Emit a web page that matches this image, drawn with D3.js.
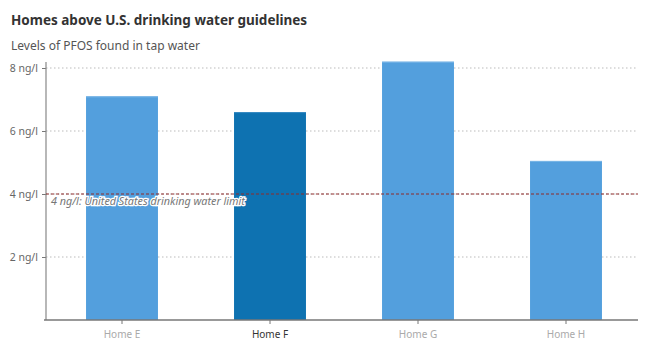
<!DOCTYPE html>
<html><head><meta charset="utf-8">
<script src="https://cdn.jsdelivr.net/npm/d3@7"></script>
<style>body{margin:0;background:#fff}svg{display:block}</style>
</head><body><svg id="c" width="645" height="359"></svg>
<script>
const categories = ["Home E","Home F","Home G","Home H"];
const values = [7.1, 6.6, 8.2, 5.05];
const highlighted = ["Home F"];
const yTicks = [2,4,6,8];
const limitValue = 4;
const limitLabel = "4 ng/l: United States drinking water limit";
const title = "Homes above U.S. drinking water guidelines";
const subtitle = "Levels of PFOS found in tap water";

const svg = d3.select("#c");
const font = "'Noto Sans', sans-serif";
const L = 46, R = 638, T = 62, B = 320;
const x = d3.scaleBand().domain(categories).range([48, 640]).paddingInner(0.514).paddingOuter(0.257);
const y = d3.scaleLinear().domain([0, 8]).range([B, 68]);

svg.append("text").attr("x", 11).attr("y", 25).attr("font-family", font).attr("font-weight", "bold")
  .attr("font-size", 13.5).attr("fill", "#333").text(title);
svg.append("text").attr("x", 11).attr("y", 50).attr("font-family", font)
  .attr("font-size", 12).attr("fill", "#555").text(subtitle);

// grid
svg.append("g").selectAll("line").data(yTicks).join("line")
  .attr("x1", L).attr("x2", R).attr("y1", d => y(d)).attr("y2", d => y(d))
  .attr("stroke", "#bbb").attr("stroke-dasharray", "1.5,2.5");

// y axis
const ya = svg.append("g").attr("transform", `translate(${L},0)`)
  .call(d3.axisLeft(y).tickValues(yTicks).tickSize(4).tickPadding(4).tickFormat(d => d + " ng/l"));
ya.select(".domain").remove();
ya.selectAll(".tick line").attr("stroke", "#777");
ya.selectAll(".tick text").attr("font-family", font).attr("font-size", 10.5).attr("fill", "#666");
svg.append("line").attr("x1", L).attr("x2", L).attr("y1", T).attr("y2", B).attr("stroke", "#888").attr("stroke-width", 1.2);

// bars
svg.append("g").selectAll("rect").data(values).join("rect")
  .attr("x", (d, i) => x(categories[i])).attr("width", x.bandwidth())
  .attr("y", d => y(d)).attr("height", d => B - y(d))
  .attr("fill", (d, i) => highlighted.includes(categories[i]) ? "#0e72b1" : "#539fdd");
svg.append("g").selectAll("line").data(values).join("line")
  .attr("x1", (d, i) => x(categories[i])).attr("x2", (d, i) => x(categories[i]) + x.bandwidth())
  .attr("y1", d => y(d) + 0.5).attr("y2", d => y(d) + 0.5)
  .attr("stroke", (d, i) => highlighted.includes(categories[i]) ? "#3a8cc4" : "#7ab6e6").attr("stroke-width", 1);

// x axis
const xa = svg.append("g").attr("transform", `translate(0,${B})`)
  .call(d3.axisBottom(x).tickSize(4).tickPadding(7));
xa.select(".domain").remove();
xa.selectAll(".tick line").attr("stroke", "#777");
xa.selectAll(".tick text").attr("font-family", font).attr("font-size", 10)
  .attr("fill", d => highlighted.includes(d) ? "#333" : "#aaa");
svg.append("line").attr("x1", 44).attr("x2", R).attr("y1", B).attr("y2", B).attr("stroke", "#777").attr("stroke-width", 1.5);

// limit line
svg.append("line").attr("x1", L).attr("x2", R).attr("y1", y(limitValue)).attr("y2", y(limitValue))
  .attr("stroke", "#8e2a2a").attr("stroke-dasharray", "3,2").attr("stroke-width", 1);
svg.append("text").attr("x", 51).attr("y", y(limitValue) + 11).attr("font-family", font)
  .attr("font-style", "italic").attr("font-size", 10.8).attr("fill", "#777")
  .attr("stroke", "#fff").attr("stroke-width", 2.5).attr("paint-order", "stroke").text(limitLabel);
</script></body></html>
